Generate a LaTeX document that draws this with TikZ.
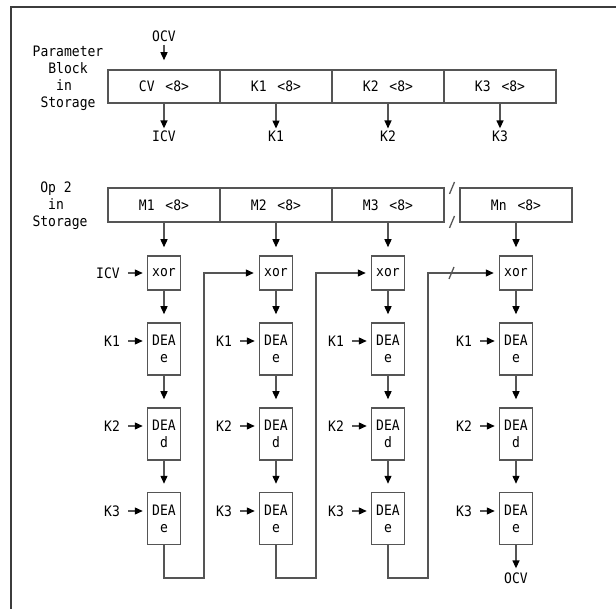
\documentclass[tikz,border=0pt]{standalone}
\usepackage{fontspec}
\newfontfamily\mono[FakeStretch=0.905]{DejaVu Sans Mono}
\usetikzlibrary{arrows.meta}
\definecolor{linec}{RGB}{85,85,85}
\definecolor{framec}{RGB}{60,60,60}
\tikzset{
  txt/.style={font=\mono\fontsize{14.4pt}{16.8pt}\selectfont, text=black},
  cell/.style={txt, draw=linec, line width=1.5pt, minimum width=112pt, inner sep=0pt},
  blk/.style={txt, draw=linec, line width=1.5pt, minimum width=33pt, inner sep=0pt, align=center},
  xorbox/.style={blk, minimum height=34pt},
  deabox/.style={blk, minimum height=52pt},
  lbl/.style={txt, inner sep=2.5pt},
  wire/.style={draw=linec, line width=1.3pt},
  arr/.style={wire, -{Triangle[length=8pt,width=7pt,color=black]}},
}
\begin{document}
\begin{tikzpicture}[x=1pt,y=-1pt]
\useasboundingbox (0,0) rectangle (616,609);
% frame
\draw[draw=framec, line width=2pt] (11,609) -- (11,7) -- (616,7);

% ---------- Parameter block ----------
\node[lbl, align=center] (pblab) at (68,78.5) {Parameter\\Block\\in\phantom{n}\\Storage};
\node[cell, minimum height=33pt] (cv)  at (164,86.5) {CV\hspace{3pt} <8>};
\node[cell, minimum height=33pt] (k1c) at (276,86.5) {K1\hspace{3pt} <8>};
\node[cell, minimum height=33pt] (k2c) at (388,86.5) {K2\hspace{3pt} <8>};
\node[cell, minimum height=33pt] (k3c) at (500,86.5) {K3\hspace{3pt} <8>};

\node[lbl] (ocvin) at (164,36.5) {OCV};
\draw[arr, shorten >=9pt] (ocvin) -- (cv);

\node[lbl] (icvout) at (164,136.5) {ICV};
\node[lbl] (k1out) at (276,136.5) {K1};
\node[lbl] (k2out) at (388,136.5) {K2};
\node[lbl] (k3out) at (500,136.5) {K3};
\draw[arr] (cv) -- (icvout);
\draw[arr] (k1c) -- (k1out);
\draw[arr] (k2c) -- (k2out);
\draw[arr] (k3c) -- (k3out);

% ---------- Op 2 ----------
\node[lbl, align=center] (oplab) at (60,206) {Op 2\phantom{n}\\in\phantom{n}\\Storage};
\node[cell, minimum height=34pt] (m1) at (164,205) {M1\hspace{3pt} <8>};
\node[cell, minimum height=34pt] (m2) at (276,205) {M2\hspace{3pt} <8>};
\node[cell, minimum height=34pt] (m3) at (388,205) {M3\hspace{3pt} <8>};
\node[cell, minimum height=34pt] (mn) at (516,205) {Mn\hspace{3pt} <8>};
% break marks
\draw[wire] (449.5,194) -- (454.5,182);
\draw[wire] (449.5,228) -- (454.5,216);

% ---------- columns ----------
\foreach \i/\X/\M in {1/164/m1, 2/276/m2, 3/388/m3, 4/516/mn} {
  \node[xorbox] (x\i) at (\X,273) {xor};
  \node[deabox] (a\i) at (\X,349) {DEA\\e};
  \node[deabox] (b\i) at (\X,434) {DEA\\d};
  \node[deabox] (c\i) at (\X,518.5) {DEA\\e};
  \draw[arr, shorten >=8pt] (\M) -- (x\i);
  \draw[arr, shorten >=8pt] (x\i) -- (a\i);
  \draw[arr, shorten >=8pt] (a\i) -- (b\i);
  \draw[arr, shorten >=8pt] (b\i) -- (c\i);
  \node[lbl] (ka\i) at (\X-52,341) {K1};
  \node[lbl] (kb\i) at (\X-52,426) {K2};
  \node[lbl] (kc\i) at (\X-52,511) {K3};
  \draw[arr, shorten <=5.5pt, shorten >=4pt] (ka\i.east) -- (ka\i.east -| a\i.west);
  \draw[arr, shorten <=5.5pt, shorten >=4pt] (kb\i.east) -- (kb\i.east -| b\i.west);
  \draw[arr, shorten <=5.5pt, shorten >=4pt] (kc\i.east) -- (kc\i.east -| c\i.west);
}

\node[lbl] (icvin) at (108,273) {ICV};
\draw[arr, shorten <=5.5pt, shorten >=4pt] (icvin.east) -- (icvin.east -| x1.west);

% chaining loops
\coordinate (v1) at (204,578);
\coordinate (v2) at (316,578);
\coordinate (v3) at (428,578);
\draw[arr, shorten >=5pt] (c1.south) |- (v1) |- (x2.west);
\draw[arr, shorten >=5pt] (c2.south) |- (v2) |- (x3.west);
\draw[arr, shorten >=5pt] (c3.south) |- (v3) |- (x4.west);
\draw[wire] (449,279) -- (454,267);

\node[lbl] (ocvout) at (516,578) {OCV};
\draw[arr, shorten >=1.5pt] (c4) -- (ocvout);
\end{tikzpicture}
\end{document}
